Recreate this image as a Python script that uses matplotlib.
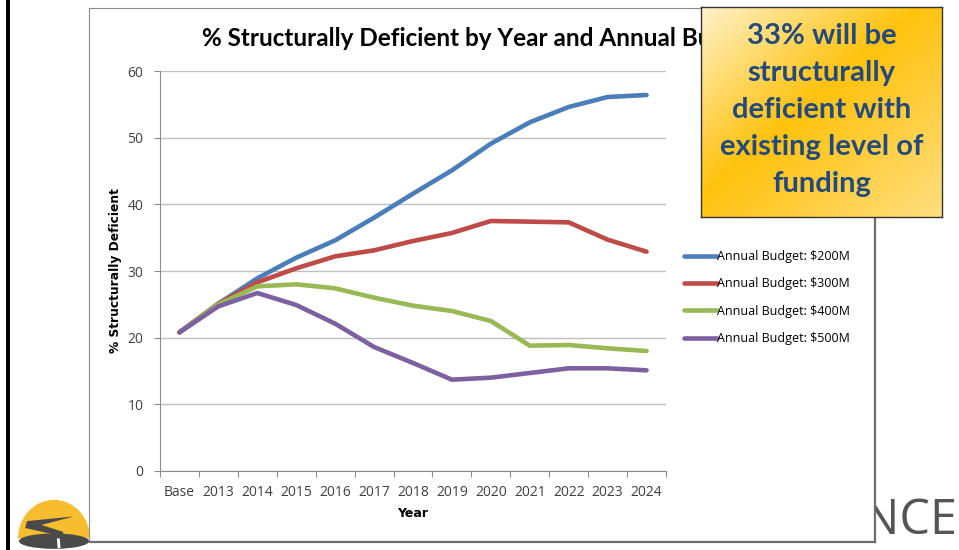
import numpy as np
import matplotlib

matplotlib.use("Agg")

import matplotlib.pyplot as plt
from matplotlib.patches import Rectangle, Wedge, Polygon, Ellipse
from matplotlib.lines import Line2D

years = ["Base", "2013", "2014", "2015", "2016", "2017", "2018",
         "2019", "2020", "2021", "2022", "2023", "2024"]

budget_200 = [20.8, 25.1, 28.9, 32.0, 34.6, 38.0, 41.6, 45.1, 49.1, 52.3, 54.6, 56.1, 56.4]
budget_300 = [20.8, 25.1, 28.3, 30.4, 32.2, 33.1, 34.5, 35.7, 37.5, 37.4, 37.3, 34.7, 32.9]
budget_400 = [20.8, 25.0, 27.7, 28.0, 27.4, 26.0, 24.8, 24.0, 22.5, 18.8, 18.9, 18.4, 18.0]
budget_500 = [20.8, 24.7, 26.7, 24.9, 22.1, 18.6, 16.2, 13.7, 14.0, 14.7, 15.4, 15.4, 15.1]

series_labels = ["Annual Budget: $200M", "Annual Budget: $300M",
                 "Annual Budget: $400M", "Annual Budget: $500M"]
series_colors = ["#4A7EBB", "#BE4B48", "#98B954", "#7D60A0"]

callout_text = "33% will be\nstructurally\ndeficient with\nexisting level of\nfunding"

W, H = 959, 550
fig = plt.figure(figsize=(W / 100, H / 100), dpi=100)
fig.patch.set_facecolor("white")


def fx(px):
    return px / W


def fy(py):
    return 1 - py / H


# slide decorations
fig.add_artist(Rectangle((fx(6), 0), fx(4), 1, transform=fig.transFigure,
                         facecolor="black", edgecolor="none", zorder=0))
fig.text(fx(957), fy(521), "ANCE", ha="right", va="center", fontsize=35,
         color="#555555", family="Open Sans", zorder=0)

# logo bottom-left
lax = fig.add_axes([fx(18), 0, fx(72), fy(496)])
lax.set_xlim(-1, 1)
lax.set_ylim(-0.35, 1.05)
lax.axis("off")
lax.add_patch(Wedge((0, -0.05), 1, 0, 180, facecolor="#F6BE2E", edgecolor="none"))
lax.add_patch(Ellipse((0, -0.12), 1.95, 0.4, facecolor="#4a4a4a", edgecolor="none"))
lax.add_patch(Polygon([[-0.75, 0.4], [0.55, 0.52], [-0.35, 0.3], [0.25, 0.12],
                       [0.3, -0.3], [0.0, -0.3], [0.02, 0.05], [-0.8, 0.22]],
                      facecolor="#4a4a4a", edgecolor="none"))
lax.add_patch(Polygon([[0.08, -0.05], [0.16, -0.05], [0.18, -0.3], [0.1, -0.3]],
                      facecolor="white", edgecolor="none"))

# chart frame
fig.add_artist(Rectangle((fx(89), fy(541)), fx(874 - 89), fy(8) - fy(541),
                         transform=fig.transFigure, facecolor="white",
                         edgecolor="#8c8c8c", linewidth=0.8, zorder=1))
fig.add_artist(Line2D([fx(90), fx(875)], [fy(542), fy(542)], transform=fig.transFigure,
                      color="#6e6e6e", linewidth=1.6, zorder=1))
fig.add_artist(Line2D([fx(875), fx(875)], [fy(10), fy(542)], transform=fig.transFigure,
                      color="#6e6e6e", linewidth=1.6, zorder=1))

ax = fig.add_axes([fx(160), fy(471), fx(666 - 160), fy(71) - fy(471)])
ax.set_zorder(2)
ax.patch.set_alpha(0)

x = np.arange(len(years))
for vals, lab, col in zip([budget_200, budget_300, budget_400, budget_500],
                          series_labels, series_colors):
    ax.plot(x, vals, color=col, linewidth=3.3, label=lab, solid_capstyle="round",
            solid_joinstyle="round")

ax.set_xlim(-0.5, len(years) - 0.5)
ax.set_ylim(0, 60)
ax.set_yticks(range(0, 61, 10))
ax.yaxis.grid(True, color="#BFBFBF", linewidth=1.0)
ax.set_axisbelow(True)
ax.set_xticks(np.arange(-0.5, len(years), 1.0))
ax.set_xticklabels([])
ax.set_xticks(x, minor=True)
ax.set_xticklabels(years, minor=True)
ax.tick_params(axis="x", which="major", length=4, color="#8c8c8c", direction="out")
ax.tick_params(axis="x", which="minor", length=0, pad=10, labelsize=10, labelcolor="#404040")
ax.tick_params(axis="y", length=4, color="#8c8c8c", pad=8, labelsize=10, labelcolor="#404040")
for s in ["top", "right"]:
    ax.spines[s].set_visible(False)
for s in ["left", "bottom"]:
    ax.spines[s].set_color("#8c8c8c")
for lab in ax.get_xticklabels(minor=True) + ax.get_yticklabels():
    lab.set_family("Open Sans")

ax.set_xlabel("Year", fontsize=9, fontweight="bold", labelpad=5)
ax.set_ylabel("% Structurally Deficient", fontsize=8.8, fontweight="bold", labelpad=4)

fig.text(fx(481), fy(38), "% Structurally Deficient by Year and Annual Budget",
         ha="center", va="center", fontsize=17.5, fontweight="bold", family="Lato",
         zorder=3)

ax.legend(loc="upper left", bbox_to_anchor=(fx(684), fy(250)), bbox_transform=fig.transFigure,
          frameon=False, handlelength=2.6, handletextpad=0.05,
          labelspacing=1.15, borderaxespad=0, borderpad=0,
          prop={"family": "Open Sans", "size": 9})

# callout box with gradient
cax = fig.add_axes([fx(701), fy(217), fx(942 - 701), fy(7) - fy(217)])
cax.set_zorder(5)
gx, gy = np.meshgrid(np.linspace(0, 1, 200), np.linspace(0, 1, 200))
t = (gx + gy) / 2
light_a = np.array([1.0, 0.95, 0.80])
gold = np.array([1.0, 0.76, 0.05])
light_b = np.array([1.0, 0.87, 0.50])
img = np.where(t[..., None] < 0.45,
               light_a + (gold - light_a) * (t[..., None] / 0.45),
               gold + (light_b - gold) * ((t[..., None] - 0.45) / 0.55))
cax.imshow(np.clip(img, 0, 1), extent=[0, 1, 0, 1], origin="upper", aspect="auto")
cax.set_xlim(0, 1)
cax.set_ylim(0, 1)
cax.set_xticks([])
cax.set_yticks([])
for s in cax.spines.values():
    s.set_color("#333333")
    s.set_linewidth(1.0)
cax.text(0.5, 0.51, callout_text, ha="center", va="center", fontsize=21,
         fontweight="bold", color="#234A7C", family="Lato", linespacing=1.52,
         transform=cax.transAxes)

fig.savefig("out.png", dpi=100)
